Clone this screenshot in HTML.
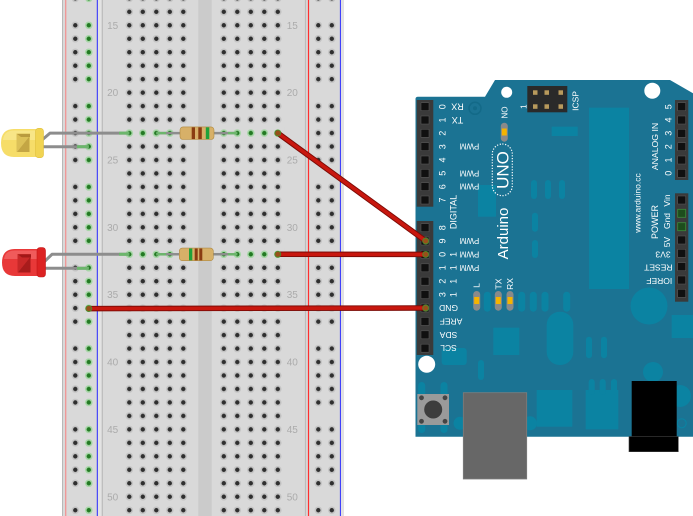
<!DOCTYPE html>
<html><head><meta charset="utf-8">
<style>
html,body{margin:0;padding:0;background:#fff;}
svg{display:block;}
text{font-family:"Liberation Sans","DejaVu Sans",sans-serif;}
</style></head><body>
<svg width="693" height="516" viewBox="0 0 693 516" xmlns="http://www.w3.org/2000/svg">
<defs>
<pattern id="gd" patternUnits="userSpaceOnUse" x="122.55" y="18.565" width="13.5" height="13.47">
<circle cx="6.75" cy="6.735" r="3.8" fill="#c4c4c4"/>
<circle cx="6.75" cy="6.735" r="2.2" fill="#2f2f2f"/>
</pattern>
<pattern id="gg" patternUnits="userSpaceOnUse" x="122.55" y="18.565" width="13.5" height="13.47">
<circle cx="6.75" cy="6.735" r="3.8" fill="#a6d6a6"/>
<circle cx="6.75" cy="6.735" r="2.2" fill="#237a23"/>
</pattern>
</defs>

<!-- Breadboard -->
<rect x="62" y="0" width="282" height="516" fill="#d9d9d9"/>
<line x1="62.5" y1="0" x2="62.5" y2="516" stroke="#b8b8b8" stroke-width="1"/>
<line x1="65.7" y1="0" x2="65.7" y2="516" stroke="#f09494" stroke-width="1.3"/>
<line x1="97.3" y1="0" x2="97.3" y2="516" stroke="#2828ff" stroke-width="1"/>
<rect x="98" y="0" width="3.5" height="516" fill="#e3e3e3"/>
<line x1="102.3" y1="0" x2="102.3" y2="516" stroke="#bcbcbc" stroke-width="1.2"/>
<line x1="305.5" y1="0" x2="305.5" y2="516" stroke="#bcbcbc" stroke-width="1.2"/>
<rect x="198.3" y="0" width="13.4" height="516" fill="#cbcbcb"/>
<line x1="308.5" y1="0" x2="308.5" y2="516" stroke="#ff2f2f" stroke-width="1.2"/>
<line x1="340.4" y1="0" x2="340.4" y2="516" stroke="#3030ff" stroke-width="1"/>
<rect x="341" y="0" width="3" height="516" fill="#e2e2e2"/>

<!-- main dots -->
<rect x="122.55" y="-8" width="67.5" height="530" fill="url(#gd)"/>
<rect x="217.05" y="-8" width="67.5" height="530" fill="url(#gd)"/>
<rect x="122.55" y="126.325" width="67.5" height="13.47" fill="#d9d9d9"/>
<rect x="217.05" y="126.325" width="67.5" height="13.47" fill="#d9d9d9"/>
<rect x="122.55" y="247.555" width="67.5" height="13.47" fill="#d9d9d9"/>
<rect x="217.05" y="247.555" width="67.5" height="13.47" fill="#d9d9d9"/>
<rect x="122.55" y="126.325" width="67.5" height="13.47" fill="url(#gg)"/>
<rect x="217.05" y="126.325" width="67.5" height="13.47" fill="url(#gg)"/>
<rect x="122.55" y="247.555" width="67.5" height="13.47" fill="url(#gg)"/>
<rect x="217.05" y="247.555" width="67.5" height="13.47" fill="url(#gg)"/>

<!-- rail dots -->
<g>
<rect x="68.55" y="-8.375" width="13.5" height="13.47" fill="url(#gd)"/>
<rect x="82.05" y="-8.375" width="13.5" height="13.47" fill="url(#gg)"/>
<rect x="311.55" y="-8.375" width="27" height="13.47" fill="url(#gd)"/>
<rect x="68.55" y="18.565" width="13.5" height="67.35" fill="url(#gd)"/>
<rect x="82.05" y="18.565" width="13.5" height="67.35" fill="url(#gg)"/>
<rect x="311.55" y="18.565" width="27" height="67.35" fill="url(#gd)"/>
<rect x="68.55" y="99.385" width="13.5" height="67.35" fill="url(#gd)"/>
<rect x="82.05" y="99.385" width="13.5" height="67.35" fill="url(#gg)"/>
<rect x="311.55" y="99.385" width="27" height="67.35" fill="url(#gd)"/>
<rect x="68.55" y="180.205" width="13.5" height="67.35" fill="url(#gd)"/>
<rect x="82.05" y="180.205" width="13.5" height="67.35" fill="url(#gg)"/>
<rect x="311.55" y="180.205" width="27" height="67.35" fill="url(#gd)"/>
<rect x="68.55" y="261.025" width="13.5" height="67.35" fill="url(#gd)"/>
<rect x="82.05" y="261.025" width="13.5" height="67.35" fill="url(#gg)"/>
<rect x="311.55" y="261.025" width="27" height="67.35" fill="url(#gd)"/>
<rect x="68.55" y="341.845" width="13.5" height="67.35" fill="url(#gd)"/>
<rect x="82.05" y="341.845" width="13.5" height="67.35" fill="url(#gg)"/>
<rect x="311.55" y="341.845" width="27" height="67.35" fill="url(#gd)"/>
<rect x="68.55" y="422.665" width="13.5" height="67.35" fill="url(#gd)"/>
<rect x="82.05" y="422.665" width="13.5" height="67.35" fill="url(#gg)"/>
<rect x="311.55" y="422.665" width="27" height="67.35" fill="url(#gd)"/>
<rect x="68.55" y="503.485" width="13.5" height="13.47" fill="url(#gd)"/>
<rect x="82.05" y="503.485" width="13.5" height="13.47" fill="url(#gg)"/>
<rect x="311.55" y="503.485" width="27" height="13.47" fill="url(#gd)"/>
</g>

<!-- row numbers -->
<g font-size="10" fill="#ababab" text-anchor="middle">
<text x="112.7" y="28.8">15</text><text x="292.3" y="28.8">15</text>
<text x="112.7" y="96.2">20</text><text x="292.3" y="96.2">20</text>
<text x="112.7" y="163.5">25</text><text x="292.3" y="163.5">25</text>
<text x="112.7" y="230.9">30</text><text x="292.3" y="230.9">30</text>
<text x="112.7" y="298.2">35</text><text x="292.3" y="298.2">35</text>
<text x="112.7" y="365.6">40</text><text x="292.3" y="365.6">40</text>
<text x="112.7" y="432.9">45</text><text x="292.3" y="432.9">45</text>
<text x="112.7" y="500.3">50</text><text x="292.3" y="500.3">50</text>
</g>

<!-- LED leads -->
<g fill="none" stroke-width="3" stroke-linejoin="round">
<polyline points="42,140 50,133.1 129.3,133.1" stroke="#8d8d8d"/>
<line x1="119" y1="133.1" x2="129.3" y2="133.1" stroke="#6cb66c"/>
<line x1="42" y1="146.7" x2="88.8" y2="146.7" stroke="#8d8d8d"/>
<line x1="77" y1="146.7" x2="88.8" y2="146.7" stroke="#6cb66c"/>
<polyline points="44,262 52,254.3 129.3,254.3" stroke="#8d8d8d"/>
<line x1="119" y1="254.3" x2="129.3" y2="254.3" stroke="#6cb66c"/>
<line x1="44" y1="268.3" x2="88.8" y2="268.3" stroke="#8d8d8d"/>
<line x1="77" y1="268.3" x2="88.8" y2="268.3" stroke="#6cb66c"/>
</g>

<!-- Yellow LED -->
<path d="M37,129 L14,129 Q1,129 1,143 Q1,157 14,157 L37,157 Z" fill="#f6dd69"/>
<path d="M37,130.5 L14,130.5 Q4,130.5 3,140 L37,140 Z" fill="#f9e88f" opacity="0.8"/>
<rect x="35.5" y="128.3" width="8" height="29.4" rx="3" fill="#f1d452" stroke="#e0c040" stroke-width="0.6"/>
<rect x="16.5" y="133.5" width="13.5" height="18.5" fill="#dcc158"/>
<polygon points="17,134 30,134 30,137 21,137" fill="#b99b3e"/>
<polygon points="29,137 29,152 17,152" fill="#c4a644"/>

<!-- Red LED -->
<path d="M38,249 L15,249 Q2,249 2,262.5 Q2,276 15,276 L38,276 Z" fill="#e83838"/>
<path d="M38,250.5 L15,250.5 Q5,250.5 4,259 L38,259 Z" fill="#f16464" opacity="0.8"/>
<rect x="37" y="247.5" width="8.5" height="29.5" rx="3" fill="#dc2222" stroke="#c41818" stroke-width="0.6"/>
<rect x="17.5" y="254" width="13.5" height="18.5" fill="#c82828"/>
<polygon points="18,254.5 31,254.5 31,257.5 22,257.5" fill="#a01818"/>
<polygon points="30,257.5 30,272.5 18,272.5" fill="#a81c1c"/>

<!-- Resistor 1 -->
<line x1="156.3" y1="133.1" x2="237.3" y2="133.1" stroke="#8d8d8d" stroke-width="2.5"/>
<line x1="156.3" y1="133.1" x2="166" y2="133.1" stroke="#6cb66c" stroke-width="2.5"/>
<line x1="228" y1="133.1" x2="237.3" y2="133.1" stroke="#6cb66c" stroke-width="2.5"/>
<rect x="180" y="126.9" width="34" height="12.6" rx="3" fill="#d7b068" stroke="#b08a42" stroke-width="0.6"/>
<rect x="191.7" y="127.3" width="3.3" height="11.8" fill="#8a3c12"/>
<rect x="198.3" y="127.3" width="3.5" height="11.8" fill="#8a3c12"/>
<rect x="205.8" y="127.3" width="3.5" height="11.8" fill="#1ea23a"/>

<!-- Resistor 2 -->
<line x1="156.3" y1="254.3" x2="237.3" y2="254.3" stroke="#8d8d8d" stroke-width="2.5"/>
<line x1="156.3" y1="254.3" x2="166" y2="254.3" stroke="#6cb66c" stroke-width="2.5"/>
<line x1="228" y1="254.3" x2="237.3" y2="254.3" stroke="#6cb66c" stroke-width="2.5"/>
<rect x="179.3" y="248.1" width="34" height="12.6" rx="3" fill="#d7b068" stroke="#b08a42" stroke-width="0.6"/>
<rect x="189" y="248.5" width="3.3" height="11.8" fill="#1ea23a"/>
<rect x="194.7" y="248.5" width="3" height="11.8" fill="#8a3c12"/>
<rect x="199.3" y="248.5" width="3" height="11.8" fill="#8a3c12"/>

<!-- Arduino board -->
<path d="M415.5,99 Q415.5,96.7 418,96.7 L485,96.7 L495,80 L670,80 L693,93.3 L693,436.7 L415.5,436.7 Z" fill="#1b7393"/>
<g fill="#0b83a2">
<rect x="589" y="107.7" width="40" height="181.3"/>
<rect x="551.7" y="126.7" width="26" height="9.3"/>
<rect x="478" y="185" width="18" height="31.7"/>
<rect x="531" y="180" width="6" height="19" rx="3"/>
<rect x="545" y="180" width="6" height="19" rx="3"/>
<rect x="559" y="180" width="6" height="19" rx="3"/>
<rect x="532" y="212.7" width="6" height="19" rx="3"/>
<rect x="532" y="240" width="6" height="18" rx="3"/>
<rect x="483.8" y="291.7" width="7" height="20" rx="3.5"/>
<rect x="518.2" y="291.7" width="7" height="20" rx="3.5"/>
<rect x="529.8" y="291.7" width="7" height="20" rx="3.5"/>
<rect x="541.5" y="291.7" width="7" height="20" rx="3.5"/>
<rect x="563.2" y="291.7" width="7" height="20" rx="3.5"/>
<rect x="546.7" y="311.7" width="26.6" height="53.3" rx="13"/>
<rect x="493.3" y="327.7" width="26" height="27.3"/>
<rect x="586" y="336.7" width="6" height="21.6" rx="3"/>
<rect x="601" y="336.7" width="6" height="21.6" rx="3"/>
<circle cx="649" cy="306" r="18.5"/>
<rect x="671.7" y="315" width="21.3" height="23"/>
<circle cx="653" cy="372" r="10"/>
<rect x="536.7" y="390" width="35.6" height="36.7"/>
<rect x="585.7" y="390" width="32.6" height="39.3"/>
<rect x="588.7" y="379" width="6" height="16" rx="3"/>
<rect x="599.7" y="379" width="6" height="16" rx="3"/>
<rect x="611" y="379" width="6" height="16" rx="3"/>
<circle cx="460" cy="423.3" r="6.5"/>
<circle cx="530" cy="423.3" r="7"/>
<rect x="418.2" y="382" width="7" height="51" rx="3.5"/>
<rect x="440.5" y="382" width="7" height="51" rx="3.5"/>
<rect x="478" y="360" width="6" height="20" rx="3"/>
<rect x="441.7" y="348" width="25" height="17" rx="3"/>
<circle cx="680" cy="396" r="11"/>
</g>
<circle cx="681.7" cy="423.3" r="4.5" fill="none" stroke="#0b83a2" stroke-width="1.2"/>
<circle cx="475" cy="108.3" r="6" fill="none" stroke="#136a88" stroke-width="1.5"/>
<circle cx="475" cy="108.3" r="2" fill="#136a88"/>

<!-- mounting holes -->
<circle cx="506.7" cy="92.3" r="5.5" fill="#fff"/>
<circle cx="652.3" cy="90.7" r="8" fill="#fff"/>
<circle cx="426.7" cy="364.3" r="8.5" fill="#fff"/>

<!-- ICSP -->
<rect x="527.3" y="86" width="40" height="26.3" fill="#2a2a2a"/>
<g fill="#b89a5c">
<rect x="533" y="90.3" width="4.5" height="4.5"/><rect x="544.5" y="90.3" width="4.5" height="4.5"/><rect x="558.5" y="90.3" width="4.5" height="4.5"/>
<rect x="533" y="104.3" width="4.5" height="4.5"/><rect x="544.5" y="104.3" width="4.5" height="4.5"/><rect x="558.5" y="104.3" width="4.5" height="4.5"/>
</g>

<!-- LEDs on board -->
<rect x="500.8" y="122.7" width="7" height="19" rx="3.5" fill="#8a8a8a"/>
<rect x="501.8" y="128.5" width="5" height="7" fill="#f5b400"/>
<rect x="473.2" y="291" width="7" height="19.7" rx="3.5" fill="#8a8a8a"/>
<rect x="474.2" y="297" width="5" height="7" fill="#f5b400"/>
<rect x="494.8" y="291" width="7" height="19.7" rx="3.5" fill="#8a8a8a"/>
<rect x="495.8" y="297" width="5" height="7" fill="#f5b400"/>
<rect x="506.5" y="291" width="7" height="19.7" rx="3.5" fill="#8a8a8a"/>
<rect x="507.5" y="297" width="5" height="7" fill="#f5b400"/>

<!-- UNO oval -->
<rect x="492.3" y="144" width="20" height="51.7" rx="10" fill="none" stroke="#fff" stroke-width="1.2" stroke-dasharray="1.2 1.6"/>

<!-- Reset button -->
<rect x="417.3" y="394" width="31.7" height="31" fill="#9a9a9a"/>
<circle cx="433.2" cy="409.5" r="9" fill="#3d3d3d"/>
<circle cx="421.5" cy="397.8" r="2.4" fill="#444"/>
<circle cx="445" cy="397.8" r="2.4" fill="#444"/>
<circle cx="421.5" cy="421.3" r="2.4" fill="#444"/>
<circle cx="445" cy="421.3" r="2.4" fill="#444"/>

<!-- USB and jack -->
<rect x="463.3" y="392.7" width="63.4" height="86.3" fill="#676767" stroke="#7d7d7d" stroke-width="0.8"/>
<rect x="631.7" y="381" width="45" height="56" fill="#000"/>
<rect x="629" y="436.5" width="49.3" height="15.2" fill="#000" stroke="#444" stroke-width="0.6"/>

<!-- Headers -->
<rect x="416.7" y="100" width="16.6" height="106.7" fill="#3a3a3a"/>
<rect x="416.7" y="221" width="16.6" height="134" fill="#3a3a3a"/>
<rect x="675" y="100" width="13.3" height="80" fill="#3a3a3a"/>
<rect x="675" y="193.3" width="13.3" height="108.4" fill="#3a3a3a"/>
<g fill="#101010" stroke="#555" stroke-width="0.6">
<rect x="421" y="102.7" width="8" height="8"/><rect x="421" y="116" width="8" height="8"/><rect x="421" y="129.3" width="8" height="8"/><rect x="421" y="142.7" width="8" height="8"/>
<rect x="421" y="156" width="8" height="8"/><rect x="421" y="169.3" width="8" height="8"/><rect x="421" y="182.7" width="8" height="8"/><rect x="421" y="196" width="8" height="8"/>
<rect x="421" y="223.7" width="8" height="8"/><rect x="421" y="237" width="8" height="8"/><rect x="421" y="250.4" width="8" height="8"/><rect x="421" y="263.8" width="8" height="8"/>
<rect x="421" y="277.2" width="8" height="8"/><rect x="421" y="290.6" width="8" height="8"/><rect x="421" y="304" width="8" height="8"/><rect x="421" y="317.4" width="8" height="8"/>
<rect x="421" y="330.8" width="8" height="8"/><rect x="421" y="344.2" width="8" height="8"/>
<rect x="677.7" y="102.7" width="8" height="8"/><rect x="677.7" y="116" width="8" height="8"/><rect x="677.7" y="129.3" width="8" height="8"/>
<rect x="677.7" y="142.7" width="8" height="8"/><rect x="677.7" y="156" width="8" height="8"/><rect x="677.7" y="169.3" width="8" height="8"/>
<rect x="677.7" y="196" width="8" height="8"/>
<rect x="677.7" y="236" width="8" height="8"/><rect x="677.7" y="249.3" width="8" height="8"/><rect x="677.7" y="262.7" width="8" height="8"/>
<rect x="677.7" y="276" width="8" height="8"/><rect x="677.7" y="289.3" width="8" height="8"/>
</g>
<g fill="#1d4d1d" stroke="#3c8a3c" stroke-width="0.8">
<rect x="677.7" y="209.3" width="8" height="8"/><rect x="677.7" y="222.7" width="8" height="8"/>
</g>

<!-- Board labels -->
<g fill="#fff" font-size="9" text-anchor="middle">
<text transform="translate(442.3,106.7) rotate(-90)" y="3">0</text>
<text transform="translate(442.3,120) rotate(-90)" y="3">1</text>
<text transform="translate(442.3,133.3) rotate(-90)" y="3">2</text>
<text transform="translate(442.3,146.7) rotate(-90)" y="3">3</text>
<text transform="translate(442.3,160) rotate(-90)" y="3">4</text>
<text transform="translate(442.3,173.3) rotate(-90)" y="3">5</text>
<text transform="translate(442.3,186.7) rotate(-90)" y="3">6</text>
<text transform="translate(442.3,200) rotate(-90)" y="3">7</text>
<text transform="translate(442.3,227.7) rotate(-90)" y="3">8</text>
<text transform="translate(442.3,241) rotate(-90)" y="3">9</text>
<text transform="translate(442.3,254.4) rotate(-90)" y="3">0</text>
<text transform="translate(453.3,254.4) rotate(-90)" y="3">1</text>
<text transform="translate(442.3,267.8) rotate(-90)" y="3">1</text>
<text transform="translate(453.3,267.8) rotate(-90)" y="3">1</text>
<text transform="translate(442.3,281.2) rotate(-90)" y="3">2</text>
<text transform="translate(453.3,281.2) rotate(-90)" y="3">1</text>
<text transform="translate(442.3,294.6) rotate(-90)" y="3">3</text>
<text transform="translate(453.3,294.6) rotate(-90)" y="3">1</text>

<text transform="translate(457.5,106.7) rotate(180)" y="3">RX</text>
<text transform="translate(457.5,120) rotate(180)" y="3">TX</text>
<text transform="translate(469.5,146.7) rotate(180)" y="3" font-size="8">PWM</text>
<text transform="translate(469.5,173.3) rotate(180)" y="3" font-size="8">PWM</text>
<text transform="translate(469.5,186.7) rotate(180)" y="3" font-size="8">PWM</text>
<text transform="translate(469.5,241) rotate(180)" y="3" font-size="8">PWM</text>
<text transform="translate(469.5,254.4) rotate(180)" y="3" font-size="8">PWM</text>
<text transform="translate(469.5,267.8) rotate(180)" y="3" font-size="8">PWM</text>
<text transform="translate(453.3,212) rotate(-90)" y="3">DIGITAL</text>
<text transform="translate(448.5,308) rotate(180)" y="3" font-size="8.5">GND</text>
<text transform="translate(451,321.4) rotate(180)" y="3" font-size="8.5">AREF</text>
<text transform="translate(448.5,334.8) rotate(180)" y="3" font-size="8.5">SDA</text>
<text transform="translate(448.5,348.2) rotate(180)" y="3" font-size="8.5">SCL</text>
<text transform="translate(476.7,285.5) rotate(-90)" y="3" font-size="8.5">L</text>
<text transform="translate(498.3,284) rotate(-90)" y="3" font-size="8.5">TX</text>
<text transform="translate(510,284) rotate(-90)" y="3" font-size="8.5">RX</text>
<text transform="translate(504.3,112.5) rotate(90)" y="3" font-size="8">ON</text>
<text transform="translate(575.5,101) rotate(-90)" y="3" font-size="8.5">ICSP</text>
<text transform="translate(523.3,106.7) rotate(-90)" y="3" font-size="8">1</text>
<text transform="translate(502.3,170) rotate(-90)" y="6" font-size="17">UNO</text>
<text transform="translate(502.5,233.5) rotate(-90)" y="5.5" font-size="15">Arduino</text>
<text transform="translate(637.7,203) rotate(-90)" y="3" font-size="8.5">www.arduino.cc</text>
<text transform="translate(655,146.5) rotate(-90)" y="3" font-size="8.7">ANALOG IN</text>
<text transform="translate(655,222) rotate(-90)" y="3" font-size="9">POWER</text>
<text transform="translate(668.3,106.7) rotate(-90)" y="3">5</text>
<text transform="translate(668.3,120) rotate(-90)" y="3">4</text>
<text transform="translate(668.3,133.3) rotate(-90)" y="3">3</text>
<text transform="translate(668.3,146.7) rotate(-90)" y="3">2</text>
<text transform="translate(668.3,160) rotate(-90)" y="3">1</text>
<text transform="translate(668.3,173.3) rotate(-90)" y="3">0</text>
<text transform="translate(667,200.5) rotate(-90)" y="3" font-size="8.5">Vin</text>
<text transform="translate(667,221) rotate(-90)" y="3" font-size="8.5">Gnd</text>
<text transform="translate(667,242) rotate(-90)" y="3" font-size="8.5">5V</text>
<text transform="translate(663,254.3) rotate(180)" y="3" font-size="8.5">3V3</text>
<text transform="translate(658.3,267.7) rotate(180)" y="3" font-size="8.5">RESET</text>
<text transform="translate(659.3,281) rotate(180)" y="3" font-size="8.5">IOREF</text>
</g>

<!-- Wires -->
<g stroke-linecap="round" fill="none">
<line x1="277.8" y1="133.1" x2="425.7" y2="241" stroke="#7c0b06" stroke-width="5.5"/>
<line x1="277.8" y1="133.1" x2="425.7" y2="241" stroke="#c8170e" stroke-width="3.6"/>
<line x1="277.8" y1="254.3" x2="425.7" y2="254.4" stroke="#7c0b06" stroke-width="5.5"/>
<line x1="277.8" y1="254.3" x2="425.7" y2="254.4" stroke="#c8170e" stroke-width="3.6"/>
<line x1="88.8" y1="308.6" x2="425.7" y2="308" stroke="#7c0b06" stroke-width="5.5"/>
<line x1="88.8" y1="308.6" x2="425.7" y2="308" stroke="#c8170e" stroke-width="3.6"/>
</g>
<g fill="#98501a" stroke="#4d8a2c" stroke-width="0.9">
<circle cx="277.8" cy="133.1" r="3"/><circle cx="425.7" cy="241" r="3"/>
<circle cx="277.8" cy="254.3" r="3"/><circle cx="425.7" cy="254.4" r="3"/>
<circle cx="88.8" cy="308.6" r="3"/><circle cx="425.7" cy="308" r="3"/>
</g>
</svg>
</body></html>
